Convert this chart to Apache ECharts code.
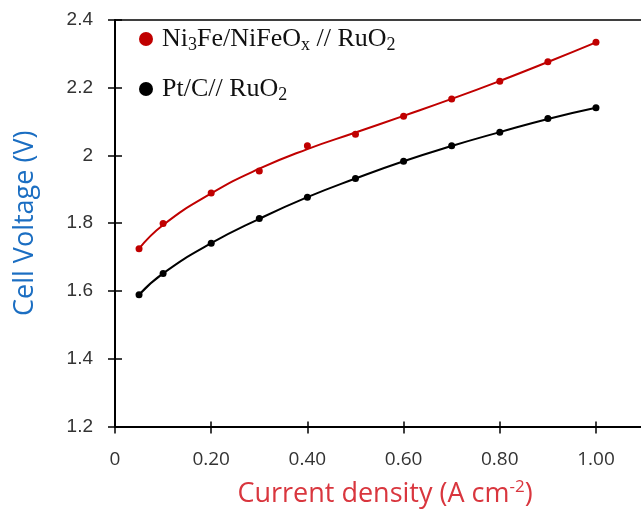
<!DOCTYPE html>
<html><head><meta charset="utf-8">
<script src="https://cdn.jsdelivr.net/npm/echarts@6/dist/echarts.min.js"></script>
<style>html,body{margin:0;padding:0;background:#fff}#c{width:641px;height:513px}</style>
</head><body><div id="c"></div>
<script>
// ---- data ----
const currentDensity = [0.05, 0.1, 0.2, 0.3, 0.4, 0.5, 0.6, 0.7, 0.8, 0.9, 1.0];
const ni3feVoltage  = [1.725, 1.799, 1.889, 1.954, 2.029, 2.063, 2.116, 2.167, 2.219, 2.277, 2.334];
const ptcVoltage    = [1.589, 1.652, 1.741, 1.814, 1.877, 1.932, 1.983, 2.029, 2.069, 2.109, 2.141];
// smooth trend curves as drawn through the points in the reference
const ni3feTrend    = [1.725, 1.795, 1.888, 1.961, 2.019, 2.068, 2.117, 2.167, 2.220, 2.276, 2.334];
const ptcTrend      = [1.589, 1.652, 1.741, 1.813, 1.877, 1.932, 1.983, 2.028, 2.069, 2.108, 2.141];
const seriesNames   = ['Ni3Fe/NiFeOx // RuO2', 'Pt/C// RuO2'];
const xTickValues   = [0, 0.2, 0.4, 0.6, 0.8, 1.0];
const xTickLabels   = ['0', '0.20', '0.40', '0.60', '0.80', '1.00'];
const yTickValues   = [1.2, 1.4, 1.6, 1.8, 2.0, 2.2, 2.4];
const yTickLabels   = ['1.2', '1.4', '1.6', '1.8', '2', '2.2', '2.4'];

const pairs = (xs, ys) => xs.map((x, i) => [x, ys[i]]);
const findLabel = (vals, labels, v) => {
  const i = vals.findIndex(t => Math.abs(t - v) < 1e-6);
  return i < 0 ? '' : labels[i];
};

const legendText = {};
legendText[seriesNames[0]] = '{a|Ni}{s|3}{n|Fe/NiFeO}{s|x}{n| // RuO}{s|2}';
legendText[seriesNames[1]] = '{a|Pt/C// RuO}{s|2}';

const XMAX = 1.0936;
const RED = '#c00000';

const chart = echarts.init(document.getElementById('c'), null, { renderer: 'canvas' });
chart.setOption({
  animation: false,
  backgroundColor: '#fff',
  grid: { left: 115, top: 20, right: 0, height: 413, show: false },
  legend: {
    data: seriesNames,
    orient: 'vertical', left: 139, top: 24, padding: 0,
    itemWidth: 14, itemHeight: 14, itemGap: 20, icon: 'circle',
    itemStyle: { opacity: 1 },
    formatter: n => legendText[n],
    textStyle: {
      color: '#111', fontFamily: 'Liberation Serif', fontSize: 26, lineHeight: 30,
      rich: {
        a: { fontFamily: 'Liberation Serif', fontSize: 26, lineHeight: 30, color: '#111', padding: [0, 0, 0, 4] },
        n: { fontFamily: 'Liberation Serif', fontSize: 26, lineHeight: 30, color: '#111' },
        s: { fontFamily: 'Liberation Serif', fontSize: 18, lineHeight: 16, color: '#111', verticalAlign: 'bottom' }
      }
    }
  },
  xAxis: [
    {
      type: 'value', min: 0, max: XMAX, interval: 0.2, position: 'bottom',
      axisLine: { show: true, lineStyle: { color: '#000', width: 2 } }, splitLine: { show: false },
      axisTick: { show: true, inside: false, length: 7, customValues: xTickValues, lineStyle: { color: '#000', width: 1.5 } },
      axisLabel: { customValues: xTickValues, margin: 24, color: '#333', fontFamily: 'Open Sans', fontSize: 19,
        formatter: v => findLabel(xTickValues, xTickLabels, v) },
      name: '{t|Current density (A cm}{p|-2}{t|)}', nameLocation: 'middle', nameGap: 52,
      nameTextStyle: {
        color: '#d9363e', fontFamily: 'Open Sans', fontSize: 27, padding: [0, 0, 0, 14],
        rich: {
          t: { color: '#d9363e', fontFamily: 'Open Sans', fontSize: 27, lineHeight: 32 },
          p: { color: '#d9363e', fontFamily: 'Open Sans', fontSize: 17, lineHeight: 17, verticalAlign: 'top' }
        }
      }
    },
    {
      type: 'value', min: 0, max: XMAX, interval: 0.2, position: 'bottom',
      axisLine: { show: false }, splitLine: { show: false }, axisLabel: { show: false },
      axisTick: { show: true, inside: true, length: 5, customValues: xTickValues, lineStyle: { color: '#000', width: 1.5 } }
    },
    {
      type: 'value', min: 0, max: XMAX, position: 'top',
      axisLine: { show: true, lineStyle: { color: '#000', width: 1.5 } }, splitLine: { show: false },
      axisLabel: { show: false }, axisTick: { show: false }
    }
  ],
  yAxis: [
    {
      type: 'value', min: 1.2, max: 2.4, interval: 0.2, position: 'left',
      axisLine: { show: true, lineStyle: { color: '#000', width: 2 } }, splitLine: { show: false },
      axisTick: { show: true, inside: false, length: 7, lineStyle: { color: '#000', width: 1.5 } },
      axisLabel: { margin: 22, color: '#333', fontFamily: 'Liberation Sans', fontSize: 19,
        formatter: v => findLabel(yTickValues, yTickLabels, v) },
      name: 'Cell Voltage (V)', nameLocation: 'middle', nameGap: 76, nameRotate: 90,
      nameTextStyle: { color: '#1b6ec2', fontFamily: 'Open Sans', fontSize: 27 }
    },
    {
      type: 'value', min: 1.2, max: 2.4, interval: 0.2, position: 'left',
      axisLine: { show: false }, splitLine: { show: false }, axisLabel: { show: false },
      axisTick: { show: true, inside: true, length: 7, lineStyle: { color: '#000', width: 1.5 } }
    }
  ],
  series: [
    {
      name: 'trend-a', type: 'line', smooth: true, data: pairs(currentDensity, ni3feTrend),
      showSymbol: false, symbol: 'none', silent: true, lineStyle: { color: RED, width: 2 }
    },
    {
      name: 'trend-b', type: 'line', smooth: true, data: pairs(currentDensity, ptcTrend),
      showSymbol: false, symbol: 'none', silent: true, lineStyle: { color: '#000', width: 2 }
    },
    {
      name: seriesNames[0], type: 'scatter', data: pairs(currentDensity, ni3feVoltage), z: 5,
      symbol: 'circle', symbolSize: 7, itemStyle: { color: RED, opacity: 1 }
    },
    {
      name: seriesNames[1], type: 'scatter', data: pairs(currentDensity, ptcVoltage), z: 5,
      symbol: 'circle', symbolSize: 7, itemStyle: { color: '#000', opacity: 1 }
    },
    { name: 'ticks', type: 'line', xAxisIndex: 1, yAxisIndex: 1, data: [], silent: true },
    { name: 'frame', type: 'line', xAxisIndex: 2, yAxisIndex: 1, data: [], silent: true }
  ]
});
</script></body></html>
